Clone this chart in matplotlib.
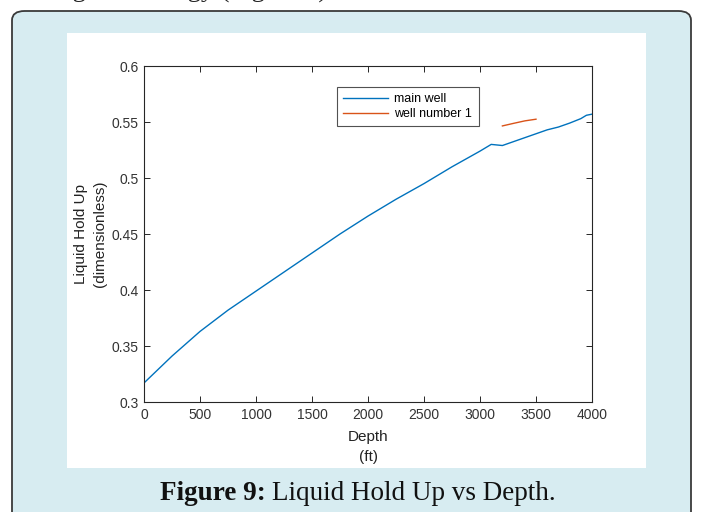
import matplotlib
matplotlib.use("Agg")
import matplotlib.pyplot as plt
from matplotlib.patches import FancyBboxPatch, Rectangle

# Data
depth_main = [0, 250, 500, 750, 1000, 1250, 1500, 1750, 2000, 2250, 2500, 2750,
              3000, 3100, 3150, 3200, 3300, 3400, 3500, 3600, 3700, 3800, 3900, 3950, 4000]
holdup_main = [0.317, 0.341, 0.363, 0.382, 0.399, 0.416, 0.433, 0.450, 0.466, 0.481,
               0.495, 0.510, 0.524, 0.530, 0.5295, 0.529, 0.5325, 0.536, 0.5395, 0.543,
               0.5455, 0.549, 0.553, 0.556, 0.557]
depth_well1 = [3200, 3300, 3400, 3500]
holdup_well1 = [0.5465, 0.5488, 0.5510, 0.5525]

xticks = [0, 500, 1000, 1500, 2000, 2500, 3000, 3500, 4000]
yticks = [0.3, 0.35, 0.4, 0.45, 0.5, 0.55, 0.6]
ytick_labels = ["0.3", "0.35", "0.4", "0.45", "0.5", "0.55", "0.6"]

W, H = 703, 512
fig = plt.figure(figsize=(W / 100, H / 100), dpi=100)
fig.patch.set_facecolor("white")


def fx(px):
    return px / W


def fy(py):
    return 1 - py / H


# Blue rounded caption box
box = FancyBboxPatch((fx(12), fy(540)), fx(691) - fx(12), fy(11) - fy(540),
                     boxstyle="round,pad=0,rounding_size=0.018",
                     transform=fig.transFigure, facecolor="#d7ecf1",
                     edgecolor="#3a3a3a", linewidth=1.3, zorder=0)
fig.patches.append(box)

# White image panel
panel = Rectangle((fx(67), fy(468)), fx(646) - fx(67), fy(33) - fy(468),
                  transform=fig.transFigure, facecolor="white", edgecolor="none", zorder=1)
fig.patches.append(panel)

# Cut-off running text at the very top (only its lower part is visible)
fig.text(fx(52), fy(-2), "logical strategy (Figure 9).", fontsize=19,
         family="Liberation Serif", color="#222222", va="baseline", ha="left")

ax = fig.add_axes([fx(144), fy(402), fx(592) - fx(144), fy(66) - fy(402)])
ax.set_zorder(2)
ax.set_facecolor("white")

ax.plot(depth_main, holdup_main, color="#0072BD", linewidth=1.0, label="main well")
ax.plot(depth_well1, holdup_well1, color="#D95319", linewidth=1.0, label="well number 1")

ax.set_xlim(0, 4000)
ax.set_ylim(0.3, 0.6)
ax.set_xticks(xticks)
ax.set_xticklabels([str(t) for t in xticks])
ax.set_yticks(yticks)
ax.set_yticklabels(ytick_labels)

tick_color = "#262626"
label_color = "#333333"
for s in ax.spines.values():
    s.set_color(tick_color)
    s.set_linewidth(0.8)
ax.tick_params(direction="in", length=4.5, width=0.7, colors=tick_color,
               labelcolor=label_color, labelsize=10, top=True, right=True,
               pad=4)
for lab in ax.get_xticklabels() + ax.get_yticklabels():
    lab.set_family("Liberation Sans")

ax.set_xlabel("Depth\n(ft)", fontsize=11, family="Liberation Sans", color="#222222",
              linespacing=1.55, labelpad=6)
ax.set_ylabel("Liquid Hold Up\n(dimensionless)", fontsize=11, family="Liberation Sans",
              color="#222222", linespacing=1.5, labelpad=3)

leg = ax.legend(loc="upper left", bbox_to_anchor=((337 - 144) / 448, (402 - 86.7) / 336),
                prop={"family": "Liberation Sans", "size": 9}, frameon=True,
                fancybox=False, handlelength=3.6, handletextpad=0.5,
                borderpad=0.5, labelspacing=0.25, borderaxespad=0)
leg.get_frame().set_edgecolor("#262626")
leg.get_frame().set_linewidth(0.8)

# Caption
cap_y = fy(500)
t1 = fig.text(fx(160), cap_y, "Figure 9:", fontsize=19.5, fontweight="bold",
              family="Liberation Serif", color="#111111", va="baseline", ha="left")
fig.canvas.draw()
bb = t1.get_window_extent()
fig.text((bb.x1 + 6) / W, cap_y, "Liquid Hold Up vs Depth.", fontsize=19.5,
         family="Liberation Serif", color="#111111", va="baseline", ha="left")

fig.savefig("out.png", dpi=100)
